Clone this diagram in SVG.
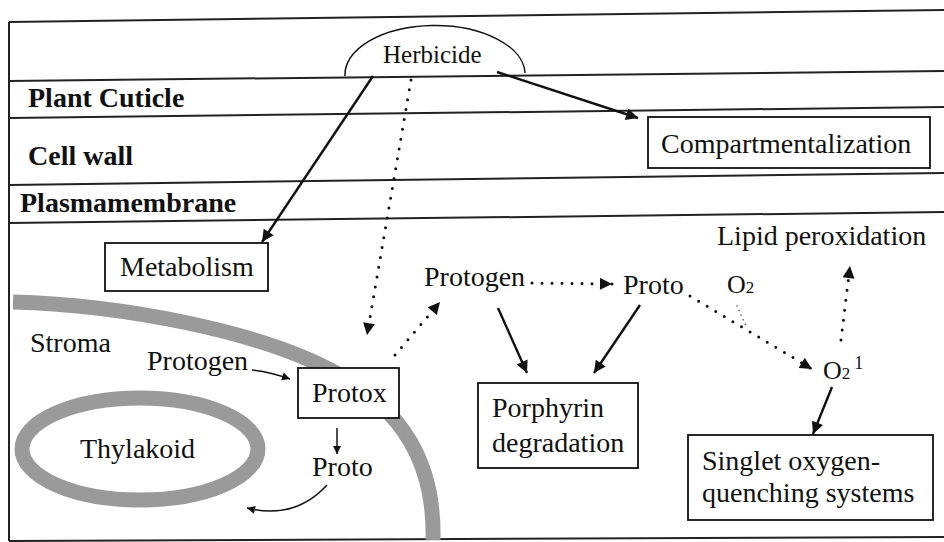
<svg xmlns="http://www.w3.org/2000/svg" width="944" height="542" viewBox="0 0 944 542" font-family="'Liberation Serif', 'Times New Roman', 'DejaVu Serif', serif">
<defs>
<marker id="ah" viewBox="0 0 10 10" refX="10" refY="5" markerWidth="16" markerHeight="12" markerUnits="userSpaceOnUse" orient="auto"><path d="M0,0 L10,5 L0,10 Z" fill="#111"/></marker>
<marker id="ahs" viewBox="0 0 10 10" refX="10" refY="5" markerWidth="10" markerHeight="8" markerUnits="userSpaceOnUse" orient="auto"><path d="M0,0 L10,5 L0,10 Z" fill="#111"/></marker>
<style>
text{font-family:'Liberation Serif','Times New Roman','DejaVu Serif',serif;fill:#111;font-size:28px}
.b{font-weight:bold}
.box{fill:#fff;stroke:#111;stroke-width:1.8}
.frame{stroke:#222;stroke-width:2;fill:none}
.solid{stroke:#111;stroke-width:2.4;fill:none;marker-end:url(#ah)}
.thin{stroke:#111;stroke-width:1.5;fill:none;marker-end:url(#ahs)}
.dot{stroke:#111;stroke-width:3;fill:none;stroke-dasharray:0 10;stroke-linecap:round;marker-end:url(#ah)}
.mem{stroke:#9a9a9a;fill:none;stroke-width:15}
</style>
</defs>
<rect width="944" height="542" fill="#fff"/>
<g id="frame">
<line class="frame" x1="9" y1="22" x2="944" y2="10"/>
<line class="frame" x1="9" y1="81" x2="944" y2="71"/>
<line class="frame" x1="9" y1="118" x2="944" y2="107"/>
<line class="frame" x1="9" y1="185" x2="944" y2="173"/>
<line class="frame" x1="9" y1="223" x2="944" y2="212"/>
<line class="frame" x1="9" y1="541" x2="944" y2="537"/>
<line class="frame" x1="9" y1="22" x2="9" y2="541"/>
<text class="b" x="28" y="107">Plant Cuticle</text>
<text class="b" x="28" y="165">Cell wall</text>
<text class="b" x="20" y="212">Plasmamembrane</text>
</g>
<g id="chloroplast">
<path class="mem" d="M13,302 C120,305 260,330 340,375 C400,410 435,460 433,540"/>
<ellipse class="mem" cx="140" cy="449" rx="118" ry="51"/>
<text x="30" y="352">Stroma</text>
<text x="80" y="458">Thylakoid</text>
</g>
<g id="herbicide">
<path d="M345,76 A90,49 0 0 1 525,73" fill="none" stroke="#111" stroke-width="1.5"/>
<text x="383" y="63" style="font-size:25px">Herbicide</text>
</g>
<g id="compartmentalization">
<rect class="box" x="648" y="117" width="282" height="51"/>
<text x="661" y="153">Compartmentalization</text>
</g>
<g id="metabolism">
<rect class="box" x="105" y="243" width="163" height="48"/>
<text x="120" y="276">Metabolism</text>
</g>
<g id="protox">
<rect class="box" x="298" y="368" width="101" height="50"/>
<text x="312" y="402">Protox</text>
</g>
<g id="protogen-left"><text x="147" y="370">Protogen</text></g>
<g id="proto-left"><text x="312" y="476">Proto</text></g>
<g id="protogen-right"><text x="424" y="286">Protogen</text></g>
<g id="proto-right"><text x="623" y="294">Proto</text></g>
<g id="o2"><text x="727" y="293" style="font-size:26px">O<tspan style="font-size:17px">2</tspan></text></g>
<g id="o2-singlet"><text x="823" y="379" style="font-size:26px">O<tspan style="font-size:17px">2</tspan><tspan dx="4" dy="-10" style="font-size:18px">1</tspan></text></g>
<g id="lipid"><text x="717" y="245">Lipid peroxidation</text></g>
<g id="porphyrin">
<rect class="box" x="478" y="383" width="160" height="85"/>
<text x="492" y="417">Porphyrin</text>
<text x="492" y="452">degradation</text>
</g>
<g id="singlet">
<rect class="box" x="688" y="435" width="245" height="85"/>
<text x="702" y="470">Singlet oxygen-</text>
<text x="702" y="502">quenching systems</text>
</g>
<g id="connectors">
<line class="solid" x1="373" y1="76" x2="262" y2="242"/>
<line class="solid" x1="497" y1="72" x2="638" y2="118"/>
<line class="dot" x1="411" y1="80" x2="367" y2="335"/>
<line class="dot" x1="395" y1="355" x2="440" y2="302"/>
<line class="dot" x1="532" y1="283" x2="612" y2="284"/>
<line class="dot" x1="690" y1="296" x2="812" y2="369"/>
<line x1="737" y1="306" x2="746" y2="326" stroke="#333" stroke-width="1.5" stroke-dasharray="0 5" stroke-linecap="round"/>
<line class="dot" x1="841" y1="340" x2="850" y2="266"/>
<line class="solid" x1="832" y1="387" x2="813" y2="434"/>
<line class="solid" x1="498" y1="308" x2="527" y2="373"/>
<line class="solid" x1="640" y1="305" x2="594" y2="373"/>
<path class="thin" d="M252,370 Q270,372 290,379"/>
<line class="thin" x1="337" y1="428" x2="337" y2="454"/>
<path class="thin" d="M327,485 Q295,520 247,508"/>
</g>
</svg>
